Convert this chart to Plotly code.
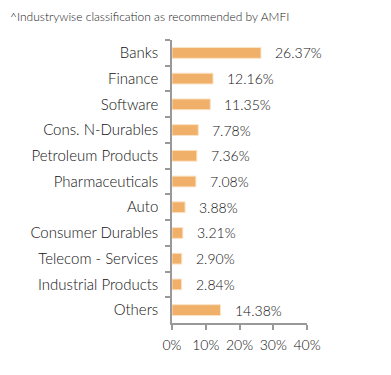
import plotly.graph_objects as go

categories = ["Banks", "Finance", "Software", "Cons. N-Durables", "Petroleum Products",
              "Pharmaceuticals", "Auto", "Consumer Durables", "Telecom - Services",
              "Industrial Products", "Others"]
values = [26.37, 12.16, 11.35, 7.78, 7.36, 7.08, 3.88, 3.21, 2.90, 2.84, 14.38]
x_ticks = [0, 10, 20, 30, 40]
title_text = "^Industrywise classification as recommended by AMFI"

FONT = "Lato, 'Open Sans', sans-serif"
W = 300
TXT = "#111"

fig = go.Figure()
fig.add_trace(go.Bar(
    y=categories, x=values, orientation="h",
    marker=dict(color="#F0B06A", line=dict(color="#FBE3C6", width=1)),
    width=0.42, hoverinfo="skip",
))
for c, v in zip(categories, values):
    fig.add_annotation(x=v, y=c, text=f"{v:.2f}%", showarrow=False,
                       xanchor="left", xshift=12, yshift=0,
                       font=dict(family=FONT, size=14, color=TXT, weight=W))

fig.add_annotation(xref="paper", yref="paper", x=-164/135, y=1 + 24/283,
                   xanchor="left", yanchor="middle", showarrow=False,
                   text=title_text, font=dict(family=FONT, size=12, color="#222", weight=W))

fig.update_layout(
    width=383, height=367,
    margin=dict(l=164, r=84, t=32, b=52),
    paper_bgcolor="white", plot_bgcolor="white",
    showlegend=False,
    font=dict(family=FONT, size=14, color=TXT, weight=W),
)
fig.update_yaxes(type="category", categoryorder="array", categoryarray=categories,
                 autorange="reversed", tickson="boundaries", ticks="outside",
                 ticklen=5, tickcolor="#999", tickwidth=1.5,
                 showline=True, linecolor="#999", linewidth=1.5,
                 showgrid=False, ticklabelstandoff=9,
                 tickfont=dict(family=FONT, size=15, color=TXT, weight=W))
fig.update_xaxes(range=[0, 40], tickvals=x_ticks, ticktext=[f"{t}%" for t in x_ticks],
                 ticks="outside", ticklen=5, tickcolor="#999", tickwidth=1.5,
                 showline=True, linecolor="#999", linewidth=1.5,
                 showgrid=False, zeroline=False, ticklabelstandoff=3,
                 tickfont=dict(family=FONT, size=14, color=TXT, weight=W))

fig.write_html("out.html")
